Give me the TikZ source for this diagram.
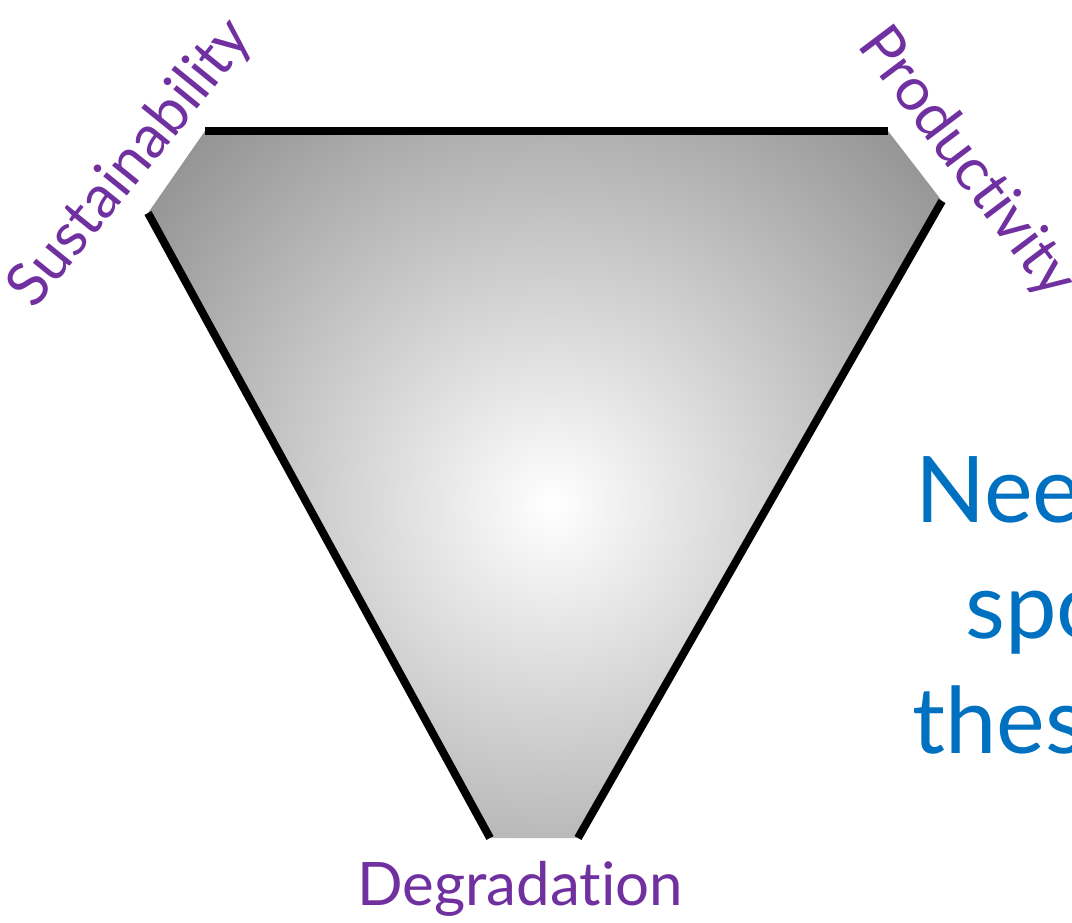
\documentclass[tikz,border=0pt]{standalone}
\usepackage{fontspec}
\setmainfont{Lato}[Ligatures={NoCommon}]
\definecolor{labpurple}{RGB}{112,48,160}
\definecolor{txtblue}{RGB}{0,112,192}
\definecolor{edgegray}{RGB}{129,129,129}
\pgfdeclareradialshading{hexshade}{\pgfpoint{0bp}{0bp}}{color(0bp)=(white); color(25bp)=(edgegray); color(50bp)=(edgegray)}
\tikzset{
  lab/.style={text=labpurple, font=\fontsize{60}{66}\selectfont, inner sep=0pt},
  bigtxt/.style={text=txtblue, font=\fontsize{92}{100}\selectfont, inner sep=0pt, anchor=base west},
  rim/.style={line width=8pt, line cap=butt, draw=black},
}
\begin{document}
\begin{tikzpicture}[x=1pt,y=-1pt]
\useasboundingbox (0,0) rectangle (1072,923);
\clip (0,0) rectangle (1072,923);
\coordinate (A) at (205,131);
\coordinate (B) at (888,131);
\coordinate (C) at (942,201);
\coordinate (D) at (578,838);
\coordinate (E) at (490,838);
\coordinate (F) at (148,213);
\begin{scope}
  \clip (A) -- (B) -- (C) -- (D) -- (E) -- (F) -- cycle;
  \shade[shading=hexshade] (552,505) circle[radius=600pt];
\end{scope}
\draw[rim] (A) -- (B);
\draw[rim] (F) -- (E);
\draw[rim] (C) -- (D);
\node[lab, rotate=51] (sus) at (131,164) {Sustainability};
\node[lab, rotate=-53] (prod) at (966,163) {Productivity};
\node[lab, anchor=base] (deg) at (520,905) {Degradation};
\node[bigtxt] (l1) at (915,522) {Nee};
\node[bigtxt] (l2) at (965,638) {spo};
\node[bigtxt] (l3) at (912,753) {thes};
\end{tikzpicture}
\end{document}
